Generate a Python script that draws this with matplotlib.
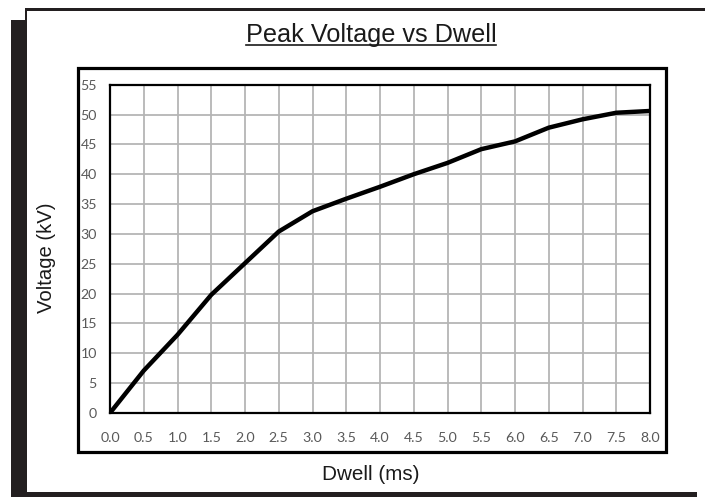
import matplotlib
matplotlib.use("Agg")
import matplotlib.pyplot as plt
from matplotlib.patches import Rectangle
from matplotlib.lines import Line2D

# ---- data ----
dwell_ms = [0.0, 0.5, 1.0, 1.5, 2.0, 2.5, 3.0, 3.5, 4.0, 4.5, 5.0, 5.5, 6.0, 6.5, 7.0, 7.5, 8.0]
voltage_kv = [0.0, 7.1, 13.1, 19.8, 25.1, 30.4, 33.8, 35.9, 37.9, 40.0, 41.9, 44.2, 45.5, 47.8, 49.2, 50.3, 50.6]
x_ticks = [i * 0.5 for i in range(17)]
x_tick_labels = [f"{v:.1f}" for v in x_ticks]
y_ticks = list(range(0, 56, 5))
y_tick_labels = [str(v) for v in y_ticks]
title = "Peak Voltage vs Dwell"
x_label = "Dwell (ms)"
y_label = "Voltage (kV)"

W, H = 705, 497
DPI = 100
fig = plt.figure(figsize=(W / DPI, H / DPI), dpi=DPI)
fig.patch.set_facecolor("white")


def fx(px):
    return px / W


def fy(py):
    return 1 - py / H


def rect_px(x0, y0, x1, y1, **kw):
    r = Rectangle((fx(x0), fy(y1)), fx(x1) - fx(x0), fy(y0) - fy(y1),
                  transform=fig.transFigure, **kw)
    fig.add_artist(r)
    return r


dark = "#231f20"
# outer frame decorations
rect_px(11, 20, 25.5, 497, facecolor=dark, edgecolor="none", zorder=0)
rect_px(11, 491.5, 697, 497, facecolor=dark, edgecolor="none", zorder=0)
rect_px(25, 8.5, 705, 10.5, facecolor=dark, edgecolor="none", zorder=0)
rect_px(25, 8.5, 27, 492, facecolor=dark, edgecolor="none", zorder=0)

# chart-area box
rect_px(77.5, 67.5, 665.5, 452, facecolor="none", edgecolor="black", linewidth=2.3, zorder=1)

# plot area
ax = fig.add_axes([fx(110), fy(413), fx(650) - fx(110), fy(84.7) - fy(413)])
ax.plot(dwell_ms, voltage_kv, color="black", linewidth=3.2,
        solid_capstyle="round", solid_joinstyle="round", zorder=3)
ax.set_xlim(0, 8)
ax.set_ylim(0, 55)
ax.set_xticks(x_ticks)
ax.set_xticklabels(x_tick_labels)
ax.set_yticks(y_ticks)
ax.set_yticklabels(y_tick_labels)
ax.grid(True, color="#b5b5b5", linewidth=1.3)
ax.set_axisbelow(True)
for s in ax.spines.values():
    s.set_color("black")
    s.set_linewidth(1.6)
ax.tick_params(length=0, labelcolor="#595959", labelsize=10.2)
ax.tick_params(axis="x", pad=14)
ax.tick_params(axis="y", pad=9.5)
for lab in ax.get_xticklabels() + ax.get_yticklabels():
    lab.set_fontfamily("Lato")

# texts
t = fig.text(fx(371), fy(42.3), title, ha="center", va="baseline",
             fontsize=18.2, family="Liberation Sans", color="#1a1a1a")
fig.text(fx(371), fy(474), x_label, ha="center", va="center",
         fontsize=14.9, family="Liberation Sans", color="#1a1a1a")
fig.text(fx(47), fy(258), y_label, ha="center", va="center", rotation=90,
         fontsize=14.6, family="Liberation Sans", color="#1a1a1a")

# underline for the title
fig.canvas.draw()
bb = t.get_window_extent(renderer=fig.canvas.get_renderer())
uy = fy(45.4)
fig.add_artist(Line2D([bb.x0 / W, bb.x1 / W], [uy, uy], transform=fig.transFigure,
                      color="#1a1a1a", linewidth=1.2))

fig.savefig("out.png", dpi=DPI, facecolor="white")
